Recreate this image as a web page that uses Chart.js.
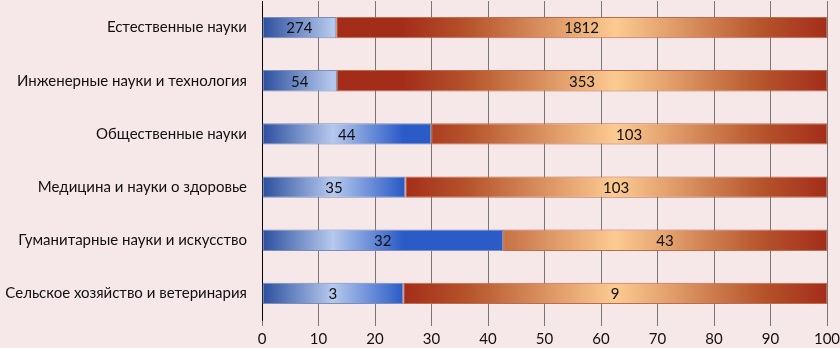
<!DOCTYPE html>
<html>
<head>
<meta charset="utf-8">
<script src="https://cdn.jsdelivr.net/npm/chart.js@4"></script>
<style>
  html, body { margin: 0; padding: 0; background: #f6e7e9; }
  #wrap { width: 840px; height: 348px; }
</style>
</head>
<body>
<div id="wrap"><canvas id="chart"></canvas></div>
<script>
var categories = [
  "Естественные науки",
  "Инженерные науки и технология",
  "Общественные науки",
  "Медицина и науки о здоровье",
  "Гуманитарные науки и искусство",
  "Сельское хозяйство и ветеринария"
];
var firstCounts = [274, 54, 44, 35, 32, 3];
var secondCounts = [1812, 353, 103, 103, 43, 9];

// share of each row, in percent (the chart is 100% stacked)
var firstShare = firstCounts.map(function (v, i) { return v / (v + secondCounts[i]) * 100; });
var secondShare = secondCounts.map(function (v, i) { return v / (firstCounts[i] + v) * 100; });

var FONT = "Lato, 'Open Sans', sans-serif";

var blueStops = [[0, "#2c4f9e"], [0.5, "#b6c9ee"], [1, "#2a5bc6"]];
var redStops = [[0, "#a42d1a"], [0.15, "#b5532b"], [0.5, "#fccb92"], [0.85, "#b5532b"], [1, "#a42d1a"]];
var allStops = [blueStops, redStops];

// each segment gets its own horizontal gradient, edge - light middle - edge
var segmentFill = {
  id: "segmentFill",
  beforeDatasetsDraw: function (chart) {
    var ctx = chart.ctx;
    chart.data.datasets.forEach(function (ds, di) {
      chart.getDatasetMeta(di).data.forEach(function (el) {
        var x0 = Math.min(el.base, el.x), x1 = Math.max(el.base, el.x);
        if (x1 - x0 < 1) return;
        var g = ctx.createLinearGradient(x0, 0, x1, 0);
        allStops[di].forEach(function (s) { g.addColorStop(s[0], s[1]); });
        el.options.backgroundColor = g;
      });
    });
  }
};

var countLabels = {
  id: "countLabels",
  afterDatasetsDraw: function (chart) {
    var ctx = chart.ctx;
    var counts = [firstCounts, secondCounts];
    ctx.save();
    ctx.font = "15px " + FONT;
    ctx.fillStyle = "#111";
    ctx.textAlign = "center";
    ctx.textBaseline = "middle";
    chart.data.datasets.forEach(function (ds, di) {
      chart.getDatasetMeta(di).data.forEach(function (el, i) {
        ctx.fillText(String(counts[di][i]), (el.x + el.base) / 2, el.y + 1);
      });
    });
    ctx.restore();
  }
};

new Chart(document.getElementById("chart"), {
  type: "bar",
  data: {
    labels: categories,
    datasets: [
      {
        data: firstShare,
        backgroundColor: "#5b7fcf",
        borderColor: "#7d8db5",
        borderWidth: 1,
        borderSkipped: false,
        barPercentage: 0.4,
        categoryPercentage: 1
      },
      {
        data: secondShare,
        backgroundColor: "#d98a5a",
        borderColor: "#bf6a48",
        borderWidth: 1,
        borderSkipped: false,
        barPercentage: 0.4,
        categoryPercentage: 1
      }
    ]
  },
  options: {
    indexAxis: "y",
    responsive: true,
    maintainAspectRatio: false,
    animation: false,
    layout: { padding: { top: 1, right: 13, left: 0, bottom: 0 } },
    plugins: {
      legend: { display: false },
      tooltip: { enabled: false }
    },
    scales: {
      x: {
        stacked: true,
        min: 0,
        max: 100,
        ticks: { stepSize: 10, color: "#111", font: { family: FONT, size: 15 }, padding: 4 },
        grid: { color: "#777", lineWidth: 1, tickLength: 6 },
        border: { display: false },
        afterFit: function (scale) {
          scale.height = 28;
          scale.paddingLeft = 0;
          scale.paddingRight = 0;
        }
      },
      y: {
        stacked: true,
        ticks: { color: "#111", font: { family: FONT, size: 15 }, padding: 7 },
        grid: { display: false },
        border: { display: true, color: "#000", width: 1 },
        afterFit: function (scale) {
          scale.width = 262;
          scale.paddingTop = 0;
          scale.paddingBottom = 0;
        }
      }
    }
  },
  plugins: [segmentFill, countLabels]
});
</script>
</body>
</html>
